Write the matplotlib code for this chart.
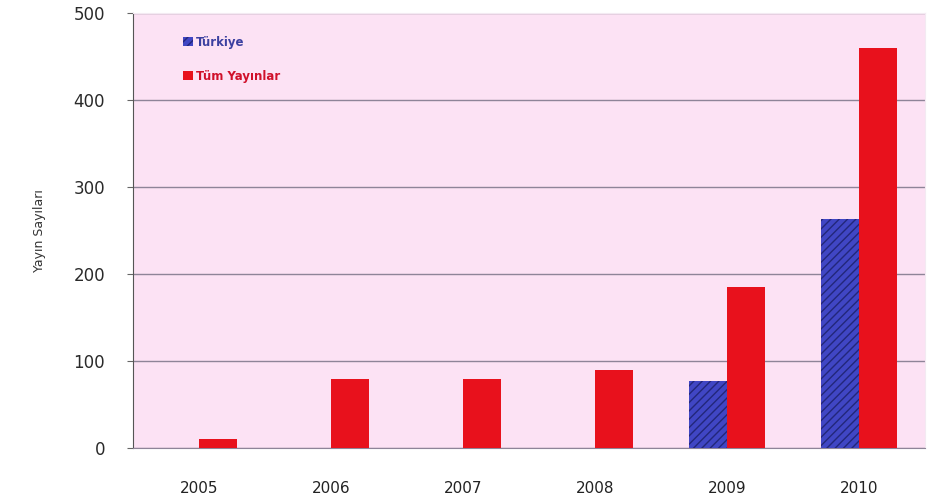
import matplotlib
matplotlib.use('Agg')
import matplotlib.pyplot as plt
import numpy as np

years = ['2005', '2006', '2007', '2008', '2009', '2010']
turkiye = [0, 0, 0, 0, 77, 263]
tum_yayinlar = [10, 79, 79, 90, 185, 460]

plt.rcParams['hatch.linewidth'] = 1.0

fig = plt.figure(figsize=(9.32, 5.04), dpi=100)
ax = fig.add_axes([0.1427, 0.111, 0.85, 0.863])
ax.set_facecolor('#fce2f4')

x = np.arange(len(years))
w = 0.29
ax.bar(x - w/2, turkiye, w, color='#4046c4', edgecolor='#23277a',
       linewidth=0, hatch='////', label='Türkiye', zorder=3)
ax.bar(x + w/2, tum_yayinlar, w, color='#e8111c', linewidth=0,
       label='Tüm Yayınlar', zorder=3)

ax.set_xlim(-0.5, 5.5)
ax.set_ylim(0, 500)
ax.set_yticks([0, 100, 200, 300, 400, 500])
ax.set_xticks(x)
ax.set_xticklabels(years)
ax.yaxis.grid(True, color='#8e8498', linewidth=1.0, zorder=1)
ax.tick_params(axis='y', labelsize=12, length=4, color='#666666', pad=16, labelcolor='#2a2a2a')
ax.tick_params(axis='x', labelsize=11, length=0, pad=24, labelcolor='#222222')

for s in ['top', 'right']:
    ax.spines[s].set_color('#f3eaf2')
ax.spines['left'].set_color('#555555')
ax.spines['bottom'].set_color('#8e8498')

ax.set_ylabel('Yayın Sayıları', fontsize=9, color='#333333', labelpad=20)

leg = ax.legend(loc='upper left', bbox_to_anchor=(0.05, 0.972), frameon=False,
                prop={'size': 8.5, 'weight': 'bold'}, handlelength=0.8, handleheight=0.8,
                handletextpad=0.3, labelspacing=1.75)
leg.get_texts()[0].set_color('#3b40a0')
leg.get_texts()[1].set_color('#d0102a')

plt.savefig('out.png', dpi=100)
